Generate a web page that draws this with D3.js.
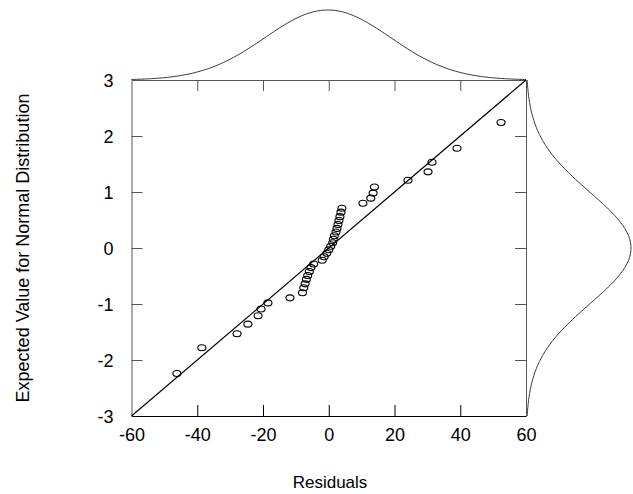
<!DOCTYPE html>
<html>
<head>
<meta charset="utf-8">
<script src="https://cdn.jsdelivr.net/npm/d3@7"></script>
<style>
  html, body { margin: 0; padding: 0; background: #fff; }
  svg { display: block; }
  text { font-family: "Liberation Sans", Arial, sans-serif; fill: #000; }
</style>
</head>
<body>
<svg id="chart" width="633" height="494"></svg>
<script>
// Residuals (x) and expected normal values (y)
const residuals = [-46.2, -38.6, -27.9, -24.6, -21.5, -20.6, -18.5, -11.8, -8.0, -7.6,
                   -7.2, -6.8, -6.4, -5.9, -5.4, -4.6, -2.0, -1.4, -0.6, 0.0,
                   0.6, 1.2, 1.4, 1.7, 2.2, 2.5, 2.8, 3.1, 3.4, 3.7,
                   4.0, 10.4, 12.8, 13.5, 13.9, 24.1, 30.2, 31.4, 39.0, 52.4];
const expected = [-2.24, -1.78, -1.53, -1.36, -1.21, -1.09, -0.98, -0.89, -0.80, -0.71,
                  -0.64, -0.56, -0.49, -0.42, -0.35, -0.285, -0.22, -0.157, -0.094, -0.031,
                  0.031, 0.094, 0.157, 0.22, 0.285, 0.35, 0.42, 0.49, 0.56, 0.64,
                  0.71, 0.80, 0.89, 0.98, 1.09, 1.21, 1.36, 1.53, 1.78, 2.24];
const xTicks = [-60, -40, -20, 0, 20, 40, 60];
const yTicks = [-3, -2, -1, 0, 1, 2, 3];
const xDomain = [-60, 60];
const yDomain = [-3, 3];
const xTitle = "Residuals";
const yTitle = "Expected Value for Normal Distribution";

const svg = d3.select("#chart");
const L = 131.5, R = 526, T = 80, B = 416;
const x = d3.scaleLinear().domain(xDomain).range([L, R]);
const y = d3.scaleLinear().domain(yDomain).range([B, T]);
const tickLen = 11;
const grey = "#555";
const fmt = d => String(d); // plain hyphen minus, integers

// Fitted normal for residuals (top margin) and standard normal (right margin)
const mean = d3.mean(residuals), sd = d3.deviation(residuals);
const pdf = (v, m, s) => Math.exp(-0.5 * ((v - m) / s) ** 2);
const topH = 70, rightH = 105;
const xs = d3.range(0, 241).map(i => xDomain[0] + i * (xDomain[1] - xDomain[0]) / 240);
const ys = d3.range(0, 241).map(i => yDomain[0] + i * (yDomain[1] - yDomain[0]) / 240);
svg.append("path")
  .attr("d", d3.line().x(v => x(v)).y(v => T - topH * pdf(v, mean, sd))(xs))
  .attr("fill", "none").attr("stroke", "#333").attr("stroke-width", 1);
svg.append("path")
  .attr("d", d3.line().x(v => R + rightH * pdf(v, 0, 1)).y(v => y(v))(ys))
  .attr("fill", "none").attr("stroke", "#333").attr("stroke-width", 1);

// Axes: bottom & left with labels, top & right with ticks only (all ticks inward)
const gB = svg.append("g").attr("transform", `translate(0,${B})`)
  .call(d3.axisBottom(x).tickValues(xTicks).tickFormat(fmt).tickSizeInner(-tickLen).tickSizeOuter(0).tickPadding(tickLen + 1));
const gT = svg.append("g").attr("transform", `translate(0,${T})`)
  .call(d3.axisTop(x).tickValues(xTicks).tickSizeInner(-tickLen).tickSizeOuter(0).tickFormat(""));
const gL = svg.append("g").attr("transform", `translate(${L},0)`)
  .call(d3.axisLeft(y).tickValues(yTicks).tickFormat(fmt).tickSizeInner(-tickLen).tickSizeOuter(0).tickPadding(tickLen + 7));
const gR = svg.append("g").attr("transform", `translate(${R},0)`)
  .call(d3.axisRight(y).tickValues(yTicks).tickSizeInner(-tickLen).tickSizeOuter(0).tickFormat(""));

[gB, gL].forEach(g => {
  g.selectAll("text").style("font-size", "18px").style("font-family", "'Liberation Sans', Arial, sans-serif").attr("fill", "#000");
});
gB.select(".domain").attr("stroke", "#000");
gT.select(".domain").attr("stroke", grey);
gL.select(".domain").attr("stroke", grey);
gR.select(".domain").attr("stroke", grey);
gB.selectAll(".tick line").attr("stroke", "#000");
[gT, gL, gR].forEach(g => g.selectAll(".tick line").attr("stroke", grey));
gB.selectAll(".tick text").attr("dy", "0.71em");
gL.selectAll(".tick text").attr("dy", "0.35em");
// hide edge ticks that coincide with corners
[gB, gT].forEach(g => g.selectAll(".tick").filter(d => d === xDomain[0] || d === xDomain[1]).select("line").remove());
[gL, gR].forEach(g => g.selectAll(".tick").filter(d => d === yDomain[0] || d === yDomain[1]).select("line").remove());

// Reference line y = x/20 through the corners
svg.append("line")
  .attr("x1", x(xDomain[0])).attr("y1", y(yDomain[0]))
  .attr("x2", x(xDomain[1])).attr("y2", y(yDomain[1]))
  .attr("stroke", "#000").attr("stroke-width", 1.2);

// Points
svg.append("g").selectAll("ellipse")
  .data(residuals.map((r, i) => [r, expected[i]]))
  .join("ellipse")
  .attr("cx", d => x(d[0])).attr("cy", d => y(d[1]))
  .attr("rx", 4).attr("ry", 3)
  .attr("fill", "none").attr("stroke", "#000").attr("stroke-width", 1.1);

// Titles
svg.append("text").attr("x", 330).attr("y", 488).attr("text-anchor", "middle")
  .style("font-size", "17px").text(xTitle);
svg.append("text").attr("transform", `translate(29,${(T + B) / 2}) rotate(-90)`)
  .attr("text-anchor", "middle").style("font-size", "18px").text(yTitle);
</script>
</body>
</html>
